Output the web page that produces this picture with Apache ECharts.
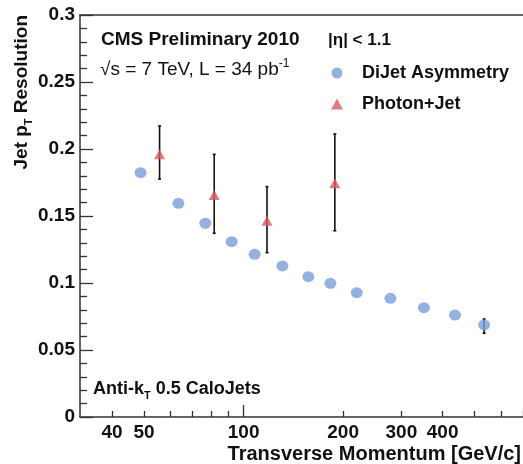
<!DOCTYPE html>
<html>
<head>
<meta charset="utf-8">
<script src="https://cdn.jsdelivr.net/npm/echarts@6/dist/echarts.min.js"></script>
<style>
  html, body { margin: 0; padding: 0; background: #fff; }
  #chart { width: 523px; height: 464px; }
</style>
</head>
<body>
<div id="chart"></div>
<script>
// dijet asymmetry points
var dijetPt = [48.8, 63.5, 76.6, 92, 108, 131, 157, 183, 220, 278, 351, 436, 534];
var dijetRes = [0.1823, 0.1595, 0.1446, 0.1308, 0.1214, 0.1127, 0.1047, 0.0998, 0.0928, 0.0886, 0.0816, 0.0761, 0.0687];
var dijetLow = [null, null, null, null, null, null, null, null, null, null, null, null, 0.0625];
var dijetHigh = [null, null, null, null, null, null, null, null, null, null, null, null, 0.0731];

// photon+jet points
var photonPt = [55.7, 81.5, 117.7, 188.8];
var photonRes = [0.196, 0.1657, 0.1465, 0.1744];
var photonLow = [0.1776, 0.1371, 0.1226, 0.139];
var photonHigh = [0.2172, 0.196, 0.1719, 0.2112];

var xLabels = [40, 50, 100, 200, 300, 400];
var xMinorTicks = [40, 50, 60, 70, 80, 90, 200, 300, 400, 500, 600, 700];
var xMajorTicks = [100];

var FONT = '"Liberation Sans", Arial, Helvetica, sans-serif';

var dijetData = [];
var dijetErr = [];
for (var i = 0; i < dijetPt.length; i++) {
	dijetData.push([dijetPt[i], dijetRes[i]]);
	if (dijetLow[i] != null) dijetErr.push([dijetPt[i], dijetLow[i], dijetHigh[i]]);
}
var photonData = [];
var photonErr = [];
for (var j = 0; j < photonPt.length; j++) {
	photonData.push([photonPt[j], photonRes[j]]);
	photonErr.push([photonPt[j], photonLow[j], photonHigh[j]]);
}

function errorBar(params, api) {
	var x = api.value(0);
	var lo = api.coord([x, api.value(1)]);
	var hi = api.coord([x, api.value(2)]);
	var cap = 1.5;
	var st = { stroke: '#111', lineWidth: 1.6 };
	return {
		type: 'group',
		children: [
			{ type: 'line', shape: { x1: lo[0], y1: lo[1], x2: hi[0], y2: hi[1] }, style: st },
			{ type: 'line', shape: { x1: lo[0] - cap, y1: lo[1], x2: lo[0] + cap, y2: lo[1] }, style: st },
			{ type: 'line', shape: { x1: hi[0] - cap, y1: hi[1], x2: hi[0] + cap, y2: hi[1] }, style: st }
		]
	};
}

var axisLineStyle = { color: '#333', width: 1.5 };

var dom = document.getElementById('chart');
var myChart = echarts.init(dom, null, { renderer: 'canvas' });

var option = {
	animation: false,
	backgroundColor: '#fff',
	textStyle: { fontFamily: FONT },
	grid: {
		left: 80,
		top: 15,
		bottom: 47,
		right: -25,
		containLabel: false
	},
	legend: {
		orient: 'vertical',
		left: 326,
		top: 59,
		itemWidth: 12,
		itemHeight: 11,
		itemGap: 13,
		data: [
			{ name: 'DiJet Asymmetry', icon: 'circle' },
			{ name: 'Photon+Jet', icon: 'triangle' }
		],
		textStyle: {
			fontFamily: FONT,
			fontWeight: 'bold',
			fontSize: 18,
			color: '#111',
			padding: [0, 0, 0, 14]
		}
	},
	xAxis: [{
		type: 'log',
		min: 32,
		max: 700,
		axisLine: { lineStyle: axisLineStyle },
		axisTick: { inside: true, length: 6, customValues: xMinorTicks, lineStyle: { color: '#333', width: 1.3 } },
		axisLabel: {
			customValues: xLabels,
			margin: 6,
			fontFamily: FONT,
			fontWeight: 'bold',
			fontSize: 19,
			color: '#111'
		},
		splitLine: { show: false }
	}, {
		type: 'log',
		min: 32,
		max: 700,
		position: 'bottom',
		axisLine: { show: false },
		axisTick: { inside: true, length: 12, customValues: xMajorTicks, lineStyle: { color: '#333', width: 1.3 } },
		axisLabel: { show: false },
		splitLine: { show: false }
	}, {
		type: 'log',
		min: 32,
		max: 700,
		position: 'top',
		axisLine: { lineStyle: axisLineStyle },
		axisTick: { show: false },
		axisLabel: { show: false },
		splitLine: { show: false }
	}],
	yAxis: {
		type: 'value',
		min: 0,
		max: 0.3,
		interval: 0.05,
		axisLine: { show: true, lineStyle: axisLineStyle },
		axisTick: { show: true, inside: true, length: 13, lineStyle: { color: '#333', width: 1.3 } },
		minorTick: { show: true, splitNumber: 5, length: 7, lineStyle: { color: '#333', width: 1.3 } },
		axisLabel: {
			margin: 5,
			fontFamily: FONT,
			fontWeight: 'bold',
			fontSize: 19,
			color: '#111'
		},
		splitLine: { show: false }
	},
	graphic: [{
		type: 'text',
		x: 22,
		y: 15,
		rotation: Math.PI / 2,
		style: {
			text: '{a|Jet p}{s|T}{a| Resolution}',
			textAlign: 'right',
			textVerticalAlign: 'middle',
			rich: {
				a: { fontFamily: FONT, fontWeight: 'bold', fontSize: 19, lineHeight: 24, fill: '#111' },
				s: { fontFamily: FONT, fontWeight: 'bold', fontSize: 11, lineHeight: 11, verticalAlign: 'bottom', fill: '#111' }
			}
		}
	}, {
		type: 'text',
		x: 521,
		y: 454,
		style: {
			text: 'Transverse Momentum [GeV/c]',
			textAlign: 'right',
			textVerticalAlign: 'middle',
			fontFamily: FONT,
			fontWeight: 'bold',
			fontSize: 20,
			fill: '#111'
		}
	}, {
		type: 'text',
		x: 101,
		y: 40,
		style: {
			text: 'CMS Preliminary 2010',
			textVerticalAlign: 'middle',
			fontFamily: FONT,
			fontWeight: 'bold',
			fontSize: 19,
			fill: '#111'
		}
	}, {
		type: 'text',
		x: 100,
		y: 70,
		style: {
			text: '{a|√s = 7 TeV, L = 34 pb}{s|-1}',
			textVerticalAlign: 'middle',
			rich: {
				a: { fontFamily: FONT, fontSize: 19, lineHeight: 24, fill: '#111' },
				s: { fontFamily: FONT, fontSize: 12, lineHeight: 12, verticalAlign: 'top', fill: '#111' }
			}
		}
	}, {
		type: 'text',
		x: 328,
		y: 40,
		style: {
			text: '|η| < 1.1',
			textVerticalAlign: 'middle',
			fontFamily: FONT,
			fontWeight: 'bold',
			fontSize: 17,
			fill: '#111'
		}
	}, {
		type: 'text',
		x: 93,
		y: 389,
		style: {
			text: '{a|Anti-k}{s|T}{a| 0.5 CaloJets}',
			textVerticalAlign: 'middle',
			rich: {
				a: { fontFamily: FONT, fontWeight: 'bold', fontSize: 18, lineHeight: 24, fill: '#111' },
				s: { fontFamily: FONT, fontWeight: 'bold', fontSize: 11, lineHeight: 11, verticalAlign: 'bottom', fill: '#111' }
			}
		}
	}],
	series: [{
		name: 'DiJet Error',
		type: 'custom',
		renderItem: errorBar,
		data: dijetErr,
		z: 1
	}, {
		name: 'Photon Error',
		type: 'custom',
		renderItem: errorBar,
		data: photonErr,
		z: 1
	}, {
		name: 'DiJet Asymmetry',
		type: 'scatter',
		symbol: 'circle',
		symbolSize: [12, 11],
		itemStyle: { color: '#7b9ed9' },
		data: dijetData,
		z: 3
	}, {
		name: 'Photon+Jet',
		type: 'scatter',
		symbol: 'triangle',
		symbolSize: [11, 10],
		itemStyle: { color: '#d95a5f' },
		data: photonData,
		z: 3
	}]
};

if (option && typeof option === 'object') {
	myChart.setOption(option, true);
}
</script>
</body>
</html>
